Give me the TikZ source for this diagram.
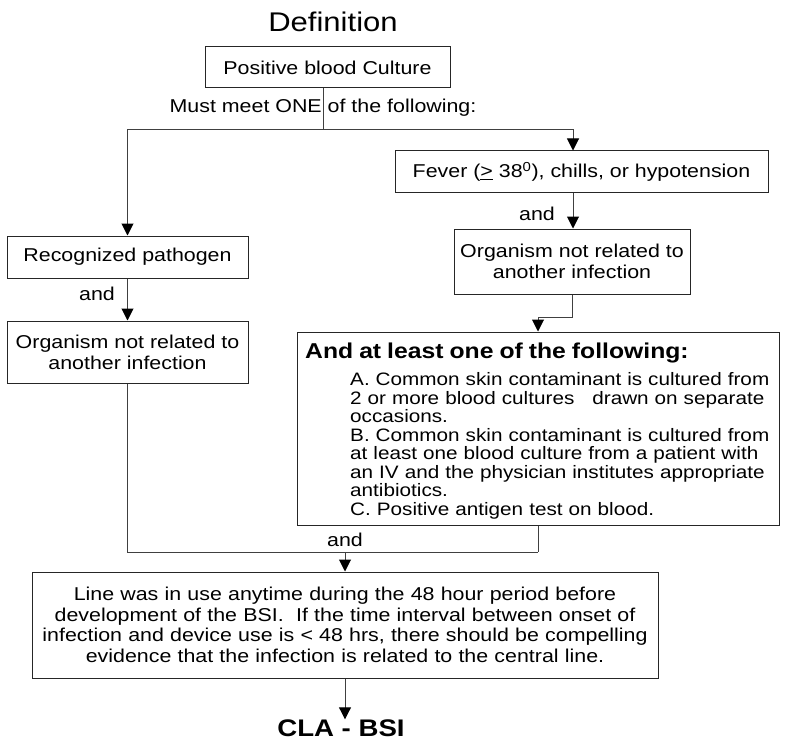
\documentclass[tikz,border=0pt]{standalone}
\usepackage{fontspec}
\setmainfont{Liberation Sans}[FakeStretch=1.15]
\usetikzlibrary{arrows.meta}
\begin{document}
\begin{tikzpicture}[x=1pt,y=-1pt,
  box/.style={draw=black!85, line width=1pt, rectangle, inner sep=0pt, align=center, font=\fontsize{18.6}{21}\selectfont},
  conn/.style={draw=black!75, line width=1pt},
  arr/.style={conn, -{Triangle[length=12pt,width=12pt,color=black,fill=black]}},
  lbl/.style={inner sep=0pt, font=\fontsize{18.6}{21}\selectfont}]
\useasboundingbox (0,0) rectangle (785,741);

\node[lbl, font=\fontsize{27}{30}\selectfont] (title) at (333,22) {Definition};
\node[box, minimum width=245pt, minimum height=41pt] (pbc) at (327.5,67.5) {Positive blood Culture};
\node[lbl] (must) at (323,108) {Must meet ONE of the following:};

\node[box, minimum width=373pt, minimum height=42pt] (fever) at (581.5,172) {Fever (\underline{>} 38\textsuperscript{0}), chills, or hypotension};
\node[box, minimum width=236pt, minimum height=65pt] (orgR) at (572,261.5) {Organism not related to\\another infection};

\node[box, minimum width=241pt, minimum height=42pt] (rec) at (127.5,257) {Recognized pathogen};
\node[box, minimum width=241pt, minimum height=62pt] (orgL) at (127.5,352) {Organism not related to\\another infection};

\node[box, minimum width=482pt, minimum height=193pt] (andbox) at (538,428.5) {};
\node[anchor=north west, inner sep=0pt, text width=475pt, align=left, font=\fontsize{18}{18.5}\selectfont] (andtext) at (305,343) {%
{\fontsize{21.5}{18.5}\selectfont\bfseries And at least one of the following:}\\[8.5pt]
\hspace*{45pt}A. Common skin contaminant is cultured from\\
\hspace*{45pt}2 or more blood cultures \ \ drawn on separate\\
\hspace*{45pt}occasions.\\
\hspace*{45pt}B. Common skin contaminant is cultured from\\
\hspace*{45pt}at least one blood culture from a patient with\\
\hspace*{45pt}an IV and the physician institutes appropriate\\
\hspace*{45pt}antibiotics.\\
\hspace*{45pt}C. Positive antigen test on blood.};

\node[box, minimum width=626pt, minimum height=106pt, text width=620pt, font=\fontsize{18.6}{20.5}\selectfont] (bottom) at (345,625) {Line was in use anytime during the 48 hour period before\\
development of the BSI.\ \ If the time interval between onset of\\
infection and device use is < 48 hrs, there should be compelling\\
evidence that the infection is related to the central line.};

\node[inner sep=0pt, font=\fontsize{24}{26}\selectfont\bfseries] (cla) at (341,728) {CLA - BSI};

\node[lbl] (and1) at (537,214) {and};
\node[lbl] (and2) at (97,294) {and};
\node[lbl] (and3) at (345,540) {and};

\coordinate (j1) at (323,130);
\coordinate (jL) at (127.5,130);
\coordinate (jR) at (573,130);
\coordinate (jB) at (538,552);

\draw[conn] (pbc.south -| j1) -- (j1);
\draw[arr] (j1) -- (jL) -- (rec.north);
\draw[arr] (j1) -- (jR) -- (jR |- fever.north);
\draw[arr] (fever.south -| jR) -- (orgR.north -| jR);
\draw[arr] (rec.south) -- (orgL.north);
\draw[arr] (orgR.south) -- ++(0,23) -| (andbox.north);
\draw[conn] (orgL.south) |- (jB);
\draw[conn] (andbox.south) -- (jB);
\draw[arr] (bottom.north |- jB) -- (bottom.north);
\draw[arr] (bottom.south) -- (bottom.south |- cla.north);
\end{tikzpicture}
\end{document}
